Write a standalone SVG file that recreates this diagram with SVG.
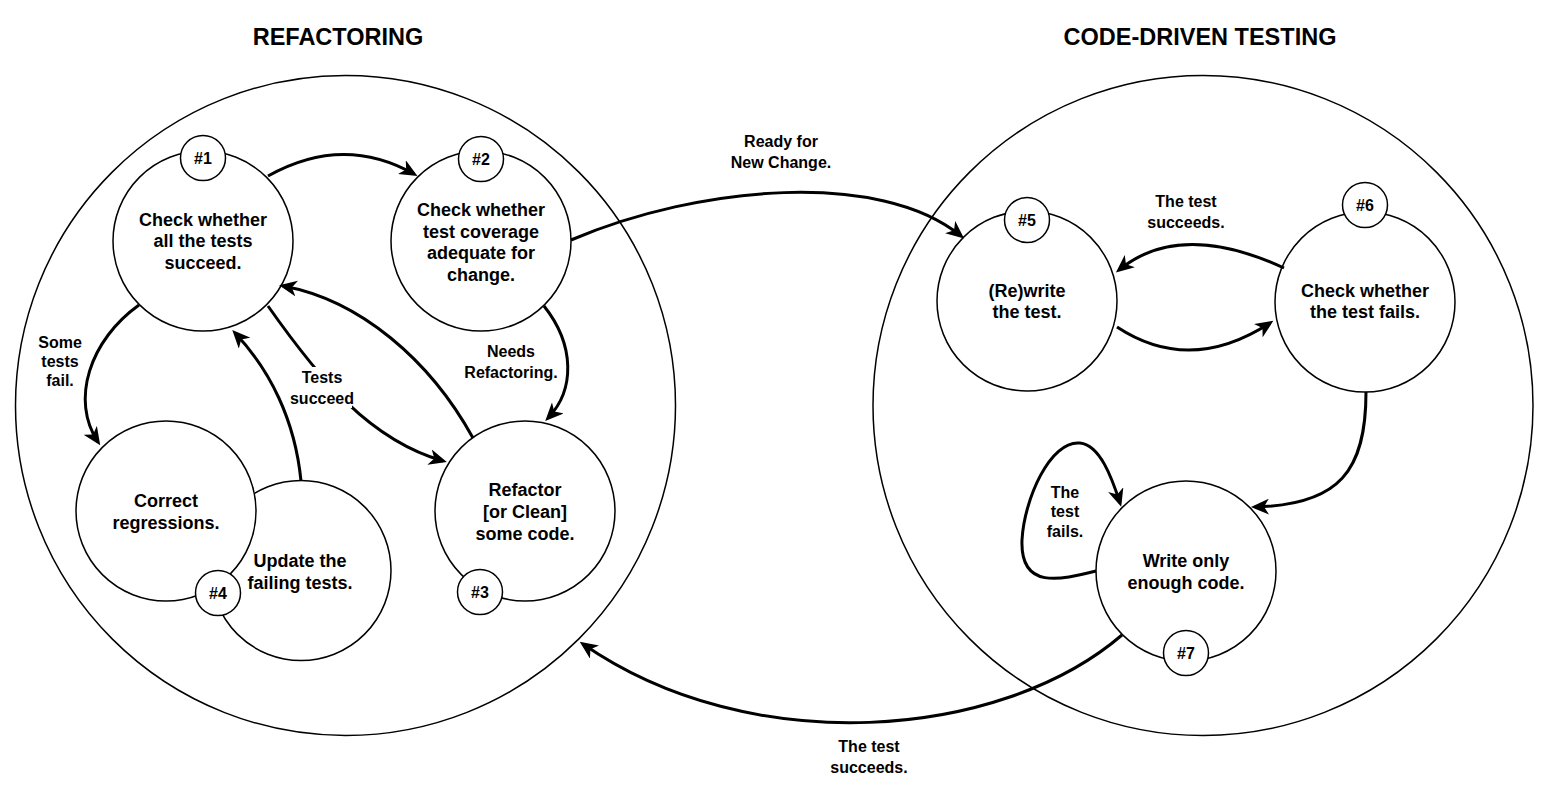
<svg xmlns="http://www.w3.org/2000/svg" width="1547" height="791" viewBox="0 0 1547 791">
<style>
  .big { fill: none; stroke: #000; stroke-width: 1.5; }
  .node { fill: #fff; stroke: #000; stroke-width: 1.5; }
  .badge { fill: #fff; stroke: #000; stroke-width: 1.5; }
  .ntext { font-family: "Liberation Sans", Arial, Helvetica, sans-serif; font-weight: bold; font-size: 18px; text-anchor: middle; fill: #000; }
  .btext { font-family: "Liberation Sans", Arial, Helvetica, sans-serif; font-weight: bold; font-size: 16px; text-anchor: middle; fill: #000; }
  .ltext { font-family: "Liberation Sans", Arial, Helvetica, sans-serif; font-weight: bold; font-size: 16px; text-anchor: middle; fill: #000; }
  .title { font-family: "Liberation Sans", Arial, Helvetica, sans-serif; font-weight: bold; font-size: 23.5px; text-anchor: middle; fill: #000; }
  .edge { fill: none; stroke: #000; stroke-width: 3; marker-end: url(#arrow); }
</style>
<defs>
  <marker id="arrow" markerUnits="userSpaceOnUse" markerWidth="18" markerHeight="16" viewBox="0 0 18 16" refX="14" refY="8" orient="auto">
    <path d="M0,0 L18,8 L0,16 L5,8 Z" fill="#000"/>
  </marker>
</defs>
<rect x="0" y="0" width="1547" height="791" fill="#fff"/>

<g id="refactoring-area">
  <circle class="big" cx="345.5" cy="405.5" r="330"/>
  <text class="title" x="338" y="45">REFACTORING</text>
</g>
<g id="cdt-area">
  <circle class="big" cx="1203" cy="405.5" r="330"/>
  <text class="title" x="1200" y="45">CODE-DRIVEN TESTING</text>
</g>

<g id="node1">
  <circle class="node" cx="203" cy="241" r="90"/>
  <text class="ntext" x="203" y="225.5">Check whether</text>
  <text class="ntext" x="203" y="247">all the tests</text>
  <text class="ntext" x="203" y="268.5">succeed.</text>
  <circle class="badge" cx="203" cy="158" r="22.5"/>
  <text class="btext" x="203" y="163.8">#1</text>
</g>

<g id="node2">
  <circle class="node" cx="481" cy="241" r="90"/>
  <text class="ntext" x="481" y="216">Check whether</text>
  <text class="ntext" x="481" y="237.5">test coverage</text>
  <text class="ntext" x="481" y="259">adequate for</text>
  <text class="ntext" x="481" y="280.5">change.</text>
  <circle class="badge" cx="481" cy="159" r="22.5"/>
  <text class="btext" x="481" y="164.8">#2</text>
</g>

<g id="node3">
  <circle class="node" cx="525" cy="511" r="90"/>
  <text class="ntext" x="525" y="495.5">Refactor</text>
  <text class="ntext" x="525" y="517.5">[or Clean]</text>
  <text class="ntext" x="525" y="539.5">some code.</text>
  <circle class="badge" cx="480" cy="592" r="22.5"/>
  <text class="btext" x="480" y="597.8">#3</text>
</g>

<g id="node4">
  <circle class="node" cx="301" cy="570.5" r="90"/>
  <text class="ntext" x="300" y="567">Update the</text>
  <text class="ntext" x="300" y="588.5">failing tests.</text>
  <circle class="node" cx="166" cy="511" r="90"/>
  <text class="ntext" x="166" y="506.5">Correct</text>
  <text class="ntext" x="166" y="528.5">regressions.</text>
  <circle class="badge" cx="218" cy="593" r="22.5"/>
  <text class="btext" x="218" y="598.8">#4</text>
</g>

<g id="node5">
  <circle class="node" cx="1027" cy="301" r="90"/>
  <text class="ntext" x="1027" y="296.5">(Re)write</text>
  <text class="ntext" x="1027" y="317.5">the test.</text>
  <circle class="badge" cx="1027" cy="220" r="22.5"/>
  <text class="btext" x="1027" y="225.8">#5</text>
</g>

<g id="node6">
  <circle class="node" cx="1365" cy="302" r="90"/>
  <text class="ntext" x="1365" y="296.5">Check whether</text>
  <text class="ntext" x="1365" y="317.5">the test fails.</text>
  <circle class="badge" cx="1365" cy="205" r="22.5"/>
  <text class="btext" x="1365" y="210.8">#6</text>
</g>

<g id="node7">
  <circle class="node" cx="1186" cy="571" r="90"/>
  <text class="ntext" x="1186" y="567">Write only</text>
  <text class="ntext" x="1186" y="588.5">enough code.</text>
  <circle class="badge" cx="1186" cy="653" r="22.5"/>
  <text class="btext" x="1186" y="658.8">#7</text>
</g>

<g id="connectors">
  <path class="edge" d="M268,176 Q343,134 414,174"/>
  <path class="edge" d="M571,240 C700,185 880,170 961,236"/>
  <path class="edge" d="M544,306 C575,345 575,390 548,418"/>
  <path class="edge" d="M268,306 C320,380 370,440 443,461"/>
  <path class="edge" d="M473,438 C430,360 360,300 283,286"/>
  <path class="edge" d="M301,481 C295,420 270,370 235,333"/>
  <path class="edge" d="M139,305 C90,340 70,400 98,442"/>
  <path class="edge" d="M1284,268 Q1180,220 1119,270"/>
  <path class="edge" d="M1117,327 Q1190,375 1270,323"/>
  <path class="edge" d="M1366,392 C1366,470 1340,505 1255,507"/>
  <path class="edge" d="M1096,571 C1060,580 1020,590 1022,540 C1024,500 1050,440 1080,443 C1100,445 1112,478 1120,503"/>
  <path class="edge" d="M1122,635 C1000,740 750,760 583,644"/>
  <rect x="292" y="367" width="60" height="41" fill="#fff"/>
</g>

<g id="labels">
  <text class="ltext" x="781" y="146.8">Ready for</text>
  <text class="ltext" x="781" y="167.5">New Change.</text>
  <text class="ltext" x="511" y="356.5">Needs</text>
  <text class="ltext" x="511" y="377.5">Refactoring.</text>
  <text class="ltext" x="322" y="383">Tests</text>
  <text class="ltext" x="322" y="404">succeed</text>
  <text class="ltext" x="60" y="347.5">Some</text>
  <text class="ltext" x="60" y="366.5">tests</text>
  <text class="ltext" x="60" y="386">fail.</text>
  <text class="ltext" x="1186" y="207">The test</text>
  <text class="ltext" x="1186" y="228">succeeds.</text>
  <text class="ltext" x="1065" y="497.5">The</text>
  <text class="ltext" x="1065" y="516.5">test</text>
  <text class="ltext" x="1065" y="536.5">fails.</text>
  <text class="ltext" x="869" y="752">The test</text>
  <text class="ltext" x="869" y="773">succeeds.</text>
</g>
</svg>
